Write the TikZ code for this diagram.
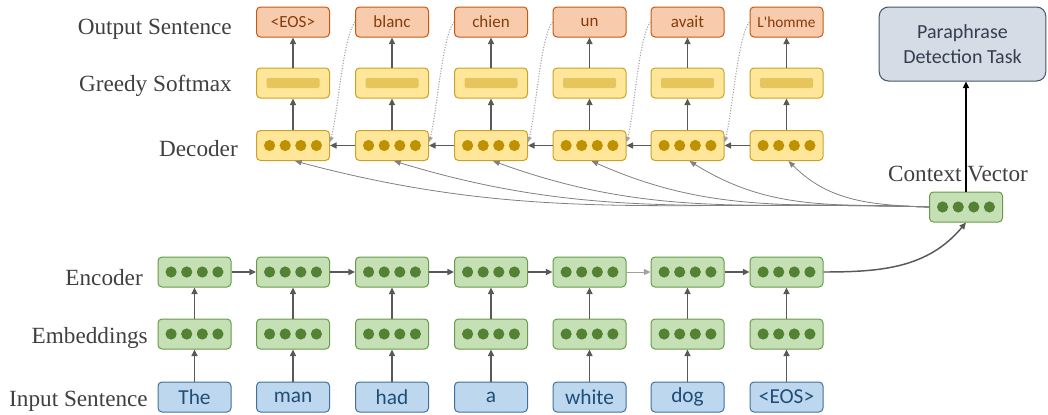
\documentclass[tikz,border=0pt]{standalone}
\usepackage{fontspec}
\setmainfont{Liberation Serif}
\newfontfamily\boxfont{Carlito}
\usetikzlibrary{arrows.meta}
\definecolor{inFill}{HTML}{BDD7EE}
\definecolor{inDraw}{HTML}{41719C}
\definecolor{inText}{HTML}{1F4E79}
\definecolor{grFill}{HTML}{C5E0B4}
\definecolor{grDraw}{HTML}{6A9A4A}
\definecolor{grDot}{HTML}{548235}
\definecolor{ylFill}{HTML}{FFE699}
\definecolor{ylDraw}{HTML}{C9A227}
\definecolor{ylDot}{HTML}{BF9000}
\definecolor{barFill}{HTML}{E6C55C}
\definecolor{orFill}{HTML}{F8CBAD}
\definecolor{orDraw}{HTML}{C55A11}
\definecolor{orText}{HTML}{843C0C}
\definecolor{paraFill}{HTML}{D6DCE5}
\definecolor{paraDraw}{HTML}{44546A}
\definecolor{paraText}{HTML}{333F50}
\definecolor{lblText}{HTML}{404040}
\definecolor{arrGray}{HTML}{595959}
\definecolor{ctxGray}{HTML}{808080}
\definecolor{dotGray}{HTML}{A0A0A0}
\newcommand\fourdots[2]{\foreach \dx in {-23.4,-7.8,7.8,23.4} \fill[#2] (#1) ++(\dx,0) circle[radius=4.2pt];}
\begin{document}
\begin{tikzpicture}[x=0.75pt,y=-0.75pt,
  box/.style={rounded corners=3pt, minimum width=54.75pt, minimum height=22.5pt, inner sep=0pt, line width=0.75pt},
  inbox/.style={box, fill=inFill, draw=inDraw, text=inText, font=\boxfont\fontsize{16}{18}\selectfont},
  grbox/.style={box, fill=grFill, draw=grDraw},
  ylbox/.style={box, fill=ylFill, draw=ylDraw},
  outbox/.style={box, fill=orFill, draw=orDraw, text=orText, font=\boxfont\fontsize{12.75}{14}\selectfont},
  lbl/.style={anchor=base east, text=lblText, inner sep=0pt, font=\fontsize{17.4}{20}\selectfont},
  arr/.style={draw=arrGray, line width=1.1pt, -{Triangle[length=5pt,width=4.5pt]}},
  lightarr/.style={draw=dotGray, line width=0.6pt, -{Triangle[length=5pt,width=4.5pt]}},
  ctxarr/.style={draw=ctxGray, line width=0.6pt, -{Triangle[length=5pt,width=4pt]}},
  dotarr/.style={draw=dotGray, dash pattern=on 0.8pt off 1.2pt, line width=0.8pt, -{Triangle[length=4pt,width=3.5pt]}},
  blackarr/.style={draw=black, line width=1.1pt, -{Triangle[length=5pt,width=4.5pt]}}
]
\useasboundingbox (0,0) rectangle (1048,414);

% row labels
\node[lbl] (lout) at (232,34) {Output Sentence};
\node[lbl] (lsoft) at (232,91) {Greedy Softmax};
\node[lbl] (ldec) at (238,156) {Decoder};
\node[lbl] (lenc) at (143,285) {Encoder};
\node[lbl] (lemb) at (148,343) {Embeddings};
\node[lbl] (lin) at (148,406) {Input Sentence};

% encoder side
\foreach \k/\x/\w in {1/194.5/The,2/293/man,3/392/had,4/491/a,5/589.5/white,6/687.5/dog,7/786.5/{<EOS>}}{
  \node[inbox] (i\k) at (\x,397) {\w};
  \node[grbox] (m\k) at (\x,334) {};
  \fourdots{m\k}{grDot}
  \node[grbox] (e\k) at (\x,272) {};
  \fourdots{e\k}{grDot}
  \draw[arr] (i\k.north) -- (m\k.south);
  \draw[arr] (m\k.north) -- (e\k.south);
}
\foreach \a/\b in {1/2,2/3,3/4,4/5,6/7} \draw[arr] (e\a.east) -- (e\b.west);
\draw[lightarr] (e5.east) -- (e6.west);

% decoder side
\foreach \k/\x/\w in {1/293/{<EOS>},2/392/blanc,3/491/chien,4/589.5/un,5/687.5/avait,6/786.5/{\fontsize{11.5}{13}\selectfont L'homme}}{
  \node[ylbox] (d\k) at (\x,145.5) {};
  \fourdots{d\k}{ylDot}
  \node[ylbox] (s\k) at (\x,83) {};
  \fill[barFill, rounded corners=1pt] (s\k) ++(-26.5,-5) rectangle ++(53,10);
  \node[outbox] (o\k) at (\x,22) {\w};
  \draw[arr] (d\k.north) -- (s\k.south);
  \draw[arr] (s\k.north) -- (o\k.south);
}
\foreach \a/\b in {2/1,3/2,4/3,5/4,6/5} {
  \draw[arr] (d\a.west) -- (d\b.east);
  \draw[dotarr] (o\a.west) .. controls +(-12,15) and +(8,-30) .. (d\b.5);
}

% context vector
\node[grbox] (ctx) at (966,207) {};
\fourdots{ctx}{grDot}
\node[anchor=base, text=lblText, inner sep=0pt, font=\fontsize{17.4}{20}\selectfont] (lctx) at (958,181) {Context Vector};
\node[rounded corners=7pt, fill=paraFill, draw=paraDraw, line width=0.75pt, minimum width=125pt, minimum height=55.5pt, align=center, text=paraText, font=\boxfont\fontsize{15}{18.5}\selectfont] (para) at (962.5,44) {Paraphrase\\Detection Task};

\draw[draw=arrGray, line width=1.1pt, -{Triangle[length=5pt,width=4.5pt]}] (e7.east) to[out=0,in=-130] (ctx.south);
\draw[blackarr] (ctx.north) -- (ctx.north |- para.south);

\foreach \k/\a in {1/-15,2/-17,3/-20,4/-24,5/-32,6/-45}
  \draw[ctxarr] (ctx.west) to[out=178,in=\a] ([xshift=1.5pt]d\k.south);
\end{tikzpicture}
\end{document}
